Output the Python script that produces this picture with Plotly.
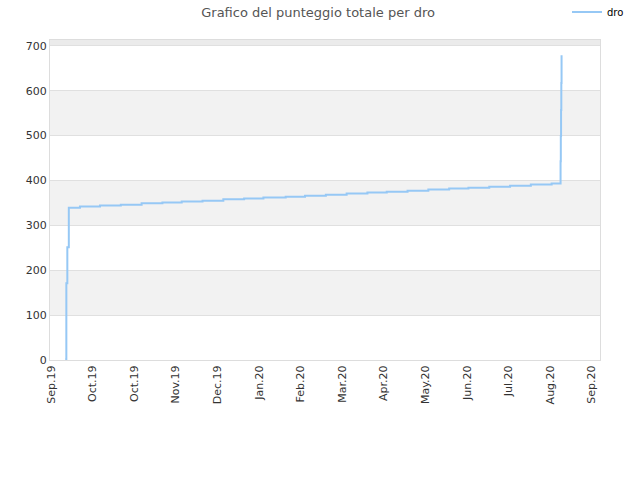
import plotly.graph_objects as go

# punteggio totale di dro
dates = ["2019-09-13 14:00", "2019-09-14 08:00", "2019-09-15", "2019-09-16",
         "2019-09-23 12:00", "2019-10-07", "2019-10-21", "2019-11-04", "2019-11-18",
         "2019-12-01", "2019-12-15", "2019-12-29", "2020-01-12", "2020-01-25",
         "2020-02-09", "2020-02-22", "2020-03-07", "2020-03-21", "2020-04-04",
         "2020-04-17", "2020-05-01", "2020-05-15", "2020-05-29", "2020-06-11",
         "2020-06-25", "2020-07-09", "2020-07-23", "2020-08-06",
         "2020-08-12 00:00", "2020-08-12 04:00", "2020-08-12 08:00",
         "2020-08-12 12:00", "2020-08-12 16:00"]
scores = [2, 171, 251, 339, 342, 344, 346, 349, 351, 353, 355, 358, 360, 362,
          364, 366, 368, 371, 373, 375, 377, 380, 382, 384, 386, 388, 391, 393,
          443, 499, 557, 617, 679]

x_ticks = ["2019-09-04", "2019-10-02", "2019-10-30", "2019-11-27", "2019-12-25",
           "2020-01-22", "2020-02-19", "2020-03-18", "2020-04-15", "2020-05-13",
           "2020-06-10", "2020-07-08", "2020-08-05", "2020-09-02"]
y_ticks = [0, 100, 200, 300, 400, 500, 600, 700]
y_max = 713

fig = go.Figure()
fig.add_trace(go.Scatter(
    x=dates, y=scores, mode="lines", name="dro",
    line=dict(color="#96c8f5", width=2, shape="hv"),
))

# bande grigie alterne
bands = []
for i in range(1, len(y_ticks), 2):
    top = y_ticks[i + 1] if i + 1 < len(y_ticks) else y_max
    bands.append(dict(type="rect", xref="paper", yref="y", x0=0, x1=1,
                      y0=y_ticks[i], y1=top, fillcolor="#f2f2f2",
                      line_width=0, layer="below"))
bands.append(dict(type="rect", xref="paper", yref="y", x0=0, x1=1,
                  y0=y_ticks[-1], y1=y_max, fillcolor="#ebebeb",
                  line_width=0, layer="below"))

fig.update_layout(
    width=640, height=480,
    margin=dict(l=50, r=40, t=40, b=120, autoexpand=False),
    paper_bgcolor="white", plot_bgcolor="white",
    font=dict(family="DejaVu Sans", size=11, color="#333"),
    title=dict(text="Grafico del punteggio totale per dro", x=0.497, xanchor="center",
               y=0.975, yanchor="middle", yref="container",
               font=dict(size=13, color="#555")),
    showlegend=True,
    legend=dict(x=0.94, y=1.0875, xanchor="left", yanchor="middle",
                font=dict(size=10, color="#000"), bgcolor="rgba(0,0,0,0)",
                itemwidth=30),
    shapes=bands,
    xaxis=dict(type="date", range=["2019-09-03 08:00", "2020-09-07 13:00"],
               tickvals=x_ticks, tickformat="%b.%y", tickangle=-90,
               showgrid=False, zeroline=False, showline=True, linecolor="#ddd",
               mirror=True, ticks="", tickfont=dict(size=11, color="#333")),
    yaxis=dict(range=[0, y_max], tickvals=y_ticks, showgrid=True,
               gridcolor="#e0e0e0", zeroline=False, showline=True,
               linecolor="#ddd", mirror=True, ticks="",
               tickfont=dict(size=11, color="#333")),
)

# niente margine della pagina, la figura parte dall'angolo; niente modebar
fig.write_html("out.html", config={"displayModeBar": False},
               post_script="document.body.style.margin='0';")
